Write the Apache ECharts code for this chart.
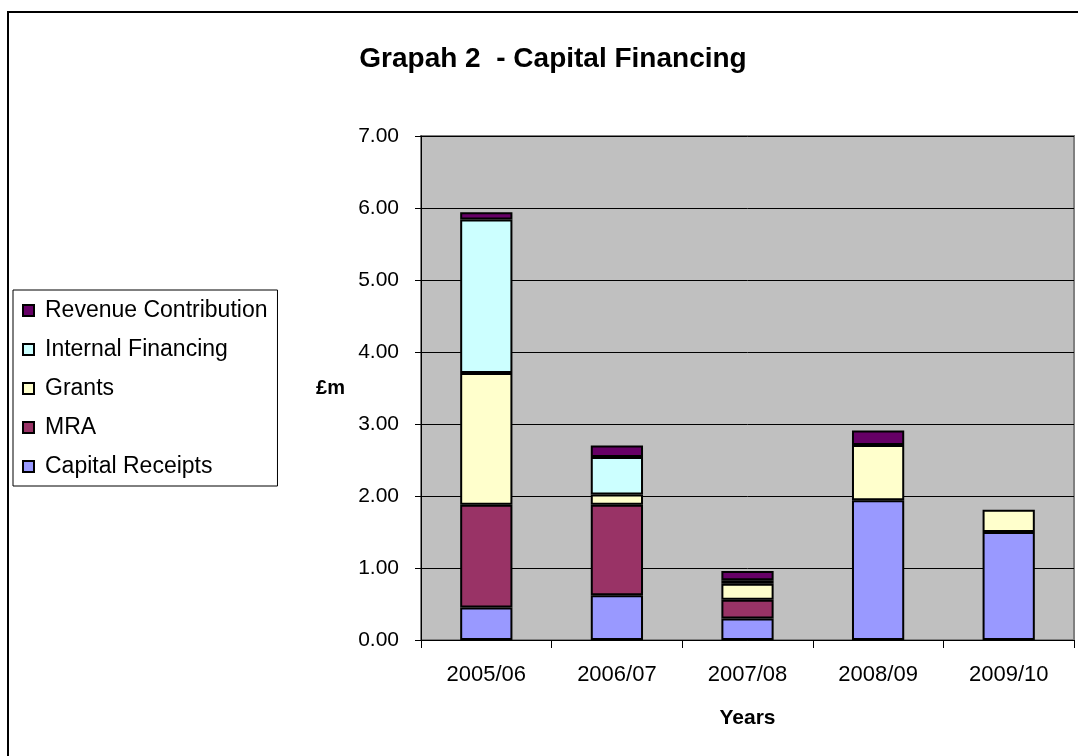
<!DOCTYPE html>
<html>
<head>
<meta charset="utf-8">
<script src="https://cdn.jsdelivr.net/npm/echarts@6/dist/echarts.min.js"></script>
<style>
html,body{margin:0;padding:0;background:#fff;}
#chart{width:1078px;height:756px;}
</style>
</head>
<body>
<div id="chart"></div>
<script>
const categories = ['2005/06', '2006/07', '2007/08', '2008/09', '2009/10'];
const capitalReceipts = [0.45, 0.62, 0.30, 1.94, 1.50];
const mra = [1.43, 1.26, 0.26, 0, 0];
const grants = [1.83, 0.14, 0.22, 0.77, 0.31];
const internalFinancing = [2.13, 0.52, 0.05, 0, 0];
const revenueContribution = [0.10, 0.16, 0.13, 0.20, 0];
const yTicks = [0, 1, 2, 3, 4, 5, 6, 7];

const FONT = 'Liberation Sans, Arial, sans-serif';
const chart = echarts.init(document.getElementById('chart'));

function bar(name, data, color) {
  return {
    name: name,
    type: 'bar',
    stack: 'total',
    data: data.map(v => v === 0 ? null : v),
    barWidth: '40%',
    itemStyle: { color: color, borderColor: '#000', borderWidth: 2 },
    emphasis: { disabled: true }
  };
}

chart.setOption({
  animation: false,
  textStyle: { fontFamily: FONT },
  graphic: [{
    type: 'rect',
    shape: { x: 8, y: 12, width: 1200, height: 900 },
    style: { fill: 'none', stroke: '#000', lineWidth: 2 },
    z: -10
  }],
  title: {
    text: 'Grapah 2  - Capital Financing',
    left: 548,
    textAlign: 'center',
    top: 40,
    textStyle: { fontFamily: FONT, fontSize: 28, fontWeight: 'bold', color: '#000' }
  },
  legend: {
    orient: 'vertical',
    left: 13,
    top: 290,
    width: 268,
    padding: [9, 10, 8, 9],
    itemGap: 16,
    itemWidth: 11,
    itemHeight: 11,
    icon: 'rect',
    borderColor: '#000',
    borderWidth: 1,
    data: ['Revenue Contribution', 'Internal Financing', 'Grants', 'MRA', 'Capital Receipts'],
    textStyle: { fontFamily: FONT, fontSize: 23, color: '#000', padding: [0, 0, 0, 6] },
    selectedMode: false
  },
  grid: {
    left: 421, right: 4, top: 136, bottom: 116,
    show: true, backgroundColor: '#C0C0C0', borderColor: '#808080', borderWidth: 2
  },
  xAxis: {
    type: 'category',
    data: categories,
    name: 'Years',
    nameLocation: 'middle',
    nameGap: 68,
    nameTextStyle: { fontFamily: FONT, fontSize: 21, fontWeight: 'bold', color: '#000' },
    axisLine: { show: true, lineStyle: { color: '#000', width: 1 } },
    axisTick: { show: true, length: 8, lineStyle: { color: '#000' } },
    axisLabel: { fontFamily: FONT, fontSize: 22, color: '#000', margin: 24 }
  },
  yAxis: {
    type: 'value',
    min: yTicks[0],
    max: yTicks[yTicks.length - 1],
    interval: 1,
    name: '£m',
    nameLocation: 'middle',
    nameRotate: 0,
    nameGap: 76,
    nameTextStyle: { fontFamily: FONT, fontSize: 20, fontWeight: 'bold', color: '#000' },
    axisLine: { show: true, lineStyle: { color: '#000', width: 1 } },
    axisTick: { show: true, length: 6, lineStyle: { color: '#000' } },
    axisLabel: { fontFamily: FONT, fontSize: 21, color: '#000', margin: 22, formatter: v => v.toFixed(2) },
    splitLine: { show: true, lineStyle: { color: '#000', width: 1 } }
  },
  series: [
    bar('Capital Receipts', capitalReceipts, '#9999FF'),
    bar('MRA', mra, '#993366'),
    bar('Grants', grants, '#FFFFCC'),
    bar('Internal Financing', internalFinancing, '#CCFFFF'),
    bar('Revenue Contribution', revenueContribution, '#660066')
  ]
});
</script>
</body>
</html>
